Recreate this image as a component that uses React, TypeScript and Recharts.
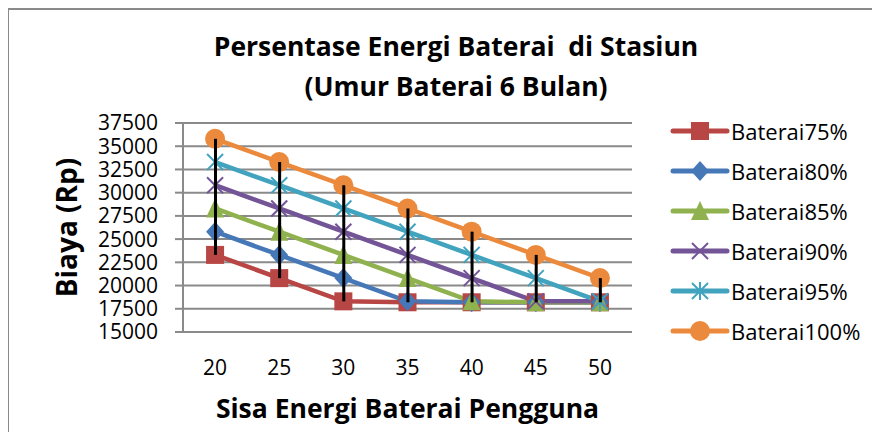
import React from 'react';
import { ComposedChart, Line, Bar, XAxis, YAxis, CartesianGrid } from 'recharts';

const categories = ['20', '25', '30', '35', '40', '45', '50'];
const yTicks = [15000, 17500, 20000, 22500, 25000, 27500, 30000, 32500, 35000, 37500];

const baterai75 = [23300, 20800, 18300, 18200, 18200, 18200, 18200];
const baterai80 = [25800, 23300, 20800, 18300, 18200, 18200, 18200];
const baterai85 = [28300, 25800, 23300, 20800, 18300, 18200, 18200];
const baterai90 = [30800, 28300, 25800, 23300, 20800, 18300, 18300];
const baterai95 = [33300, 30800, 28300, 25800, 23300, 20800, 18300];
const baterai100 = [35800, 33300, 30800, 28300, 25800, 23300, 20800];

type Shape = 'square' | 'diamond' | 'triangle' | 'x' | 'star' | 'circle';

const series: { key: string; name: string; color: string; shape: Shape; values: number[] }[] = [
  { key: 'b75', name: 'Baterai75%', color: '#B84644', shape: 'square', values: baterai75 },
  { key: 'b80', name: 'Baterai80%', color: '#4678B8', shape: 'diamond', values: baterai80 },
  { key: 'b85', name: 'Baterai85%', color: '#8FB24E', shape: 'triangle', values: baterai85 },
  { key: 'b90', name: 'Baterai90%', color: '#725497', shape: 'x', values: baterai90 },
  { key: 'b95', name: 'Baterai95%', color: '#41A3BE', shape: 'star', values: baterai95 },
  { key: 'b100', name: 'Baterai100%', color: '#EB8A3C', shape: 'circle', values: baterai100 },
];

// high-low line spans min..max of all series per category
const data = categories.map((c, i) => {
  const row: any = { x: c };
  const vals = series.map((s) => s.values[i]);
  series.forEach((s) => (row[s.key] = s.values[i]));
  row.range = [Math.min(...vals), Math.max(...vals)];
  return row;
});

const FONT = '"Open Sans", sans-serif';

function marker(shape: Shape, color: string, cx: number, cy: number, key?: string) {
  const s = 9;
  switch (shape) {
    case 'square':
      return <rect key={key} x={cx - s} y={cy - s} width={s * 2} height={s * 2} fill={color} />;
    case 'diamond':
      return <polygon key={key} points={`${cx},${cy - s - 1} ${cx + s},${cy} ${cx},${cy + s + 1} ${cx - s},${cy}`} fill={color} />;
    case 'triangle':
      return <polygon key={key} points={`${cx},${cy - s - 1} ${cx + s},${cy + s} ${cx - s},${cy + s}`} fill={color} />;
    case 'x':
      return (
        <g key={key} stroke={color} strokeWidth={2}>
          <line x1={cx - 8} y1={cy - 8} x2={cx + 8} y2={cy + 8} />
          <line x1={cx - 8} y1={cy + 8} x2={cx + 8} y2={cy - 8} />
        </g>
      );
    case 'star':
      return (
        <g key={key} stroke={color} strokeWidth={2}>
          <line x1={cx - 8} y1={cy - 8} x2={cx + 8} y2={cy + 8} />
          <line x1={cx - 8} y1={cy + 8} x2={cx + 8} y2={cy - 8} />
          <line x1={cx} y1={cy - 9} x2={cx} y2={cy + 9} />
        </g>
      );
    default:
      return <circle key={key} cx={cx} cy={cy} r={10} fill={color} />;
  }
}

function Legend() {
  return (
    <div style={{ position: 'absolute', left: 656, top: 103 }}>
      {series.map((s) => (
        <div key={s.key} style={{ display: 'flex', alignItems: 'center', height: 40 }}>
          <svg width={66} height={30}>
            <line x1={9} y1={15} x2={63} y2={15} stroke={s.color} strokeWidth={5} strokeLinecap="round" />
            {marker(s.shape, s.color, 36, 15)}
          </svg>
          <span style={{ fontFamily: FONT, fontSize: 22, color: '#000', marginLeft: 1 }}>{s.name}</span>
        </div>
      ))}
    </div>
  );
}

export default function App() {
  return (
    <div style={{ position: 'relative', width: 872, height: 424, overflow: 'hidden', background: '#fff' }}>
      <div
        style={{
          position: 'absolute', left: -1, top: 0, width: 900, height: 500,
          borderTop: '2px solid #8a8a8a', borderLeft: '2px solid #8a8a8a', pointerEvents: 'none',
        }}
      />
      <div
        style={{
          position: 'absolute', left: 0, width: 896, top: 18, textAlign: 'center',
          fontFamily: FONT, fontWeight: 700, fontSize: 26.5, lineHeight: '40px', color: '#000',
        }}
      >
        Persentase Energi Baterai&nbsp; di Stasiun
        <br />
        (Umur Baterai 6 Bulan)
      </div>
      <ComposedChart width={872} height={424} data={data} margin={{ top: 115, right: 248, bottom: 70, left: 0 }}>
        <CartesianGrid vertical={false} stroke="#8a8a8a" strokeWidth={2} />
        <XAxis
          dataKey="x"
          axisLine={false}
          tickLine={false}
          height={30}
          tickMargin={22}
          tick={{ fill: '#000', fontSize: 21, fontFamily: FONT }}
          label={{ value: 'Sisa Energi Baterai Pengguna', position: 'bottom', offset: 37, style: { fill: '#000', fontSize: 26.5, fontWeight: 700, fontFamily: FONT } }}
        />
        <YAxis
          width={175}
          domain={[15000, 37500]}
          ticks={yTicks}
          interval={0}
          axisLine={{ stroke: '#8a8a8a', strokeWidth: 2 }}
          tickLine={{ stroke: '#8a8a8a', strokeWidth: 2 }}
          tickSize={8}
          tickMargin={17}
          tick={{ fill: '#000', fontSize: 21, fontFamily: FONT }}
          label={{ value: 'Biaya (Rp)', angle: -90, position: 'insideLeft', offset: 59, style: { textAnchor: 'middle', fill: '#000', fontSize: 28, fontWeight: 700, fontFamily: FONT } }}
        />
        {series.map((s) => (
          <Line
            key={s.key}
            dataKey={s.key}
            name={s.name}
            stroke={s.color}
            strokeWidth={4.5}
            isAnimationActive={false}
            dot={(p: any) => marker(s.shape, s.color, p.cx, p.cy, `${s.key}-${p.index}`)}
            activeDot={false}
          />
        ))}
        <Bar dataKey="range" barSize={3} fill="#000" isAnimationActive={false} legendType="none" zIndex={700} />
      </ComposedChart>
      <Legend />
    </div>
  );
}
